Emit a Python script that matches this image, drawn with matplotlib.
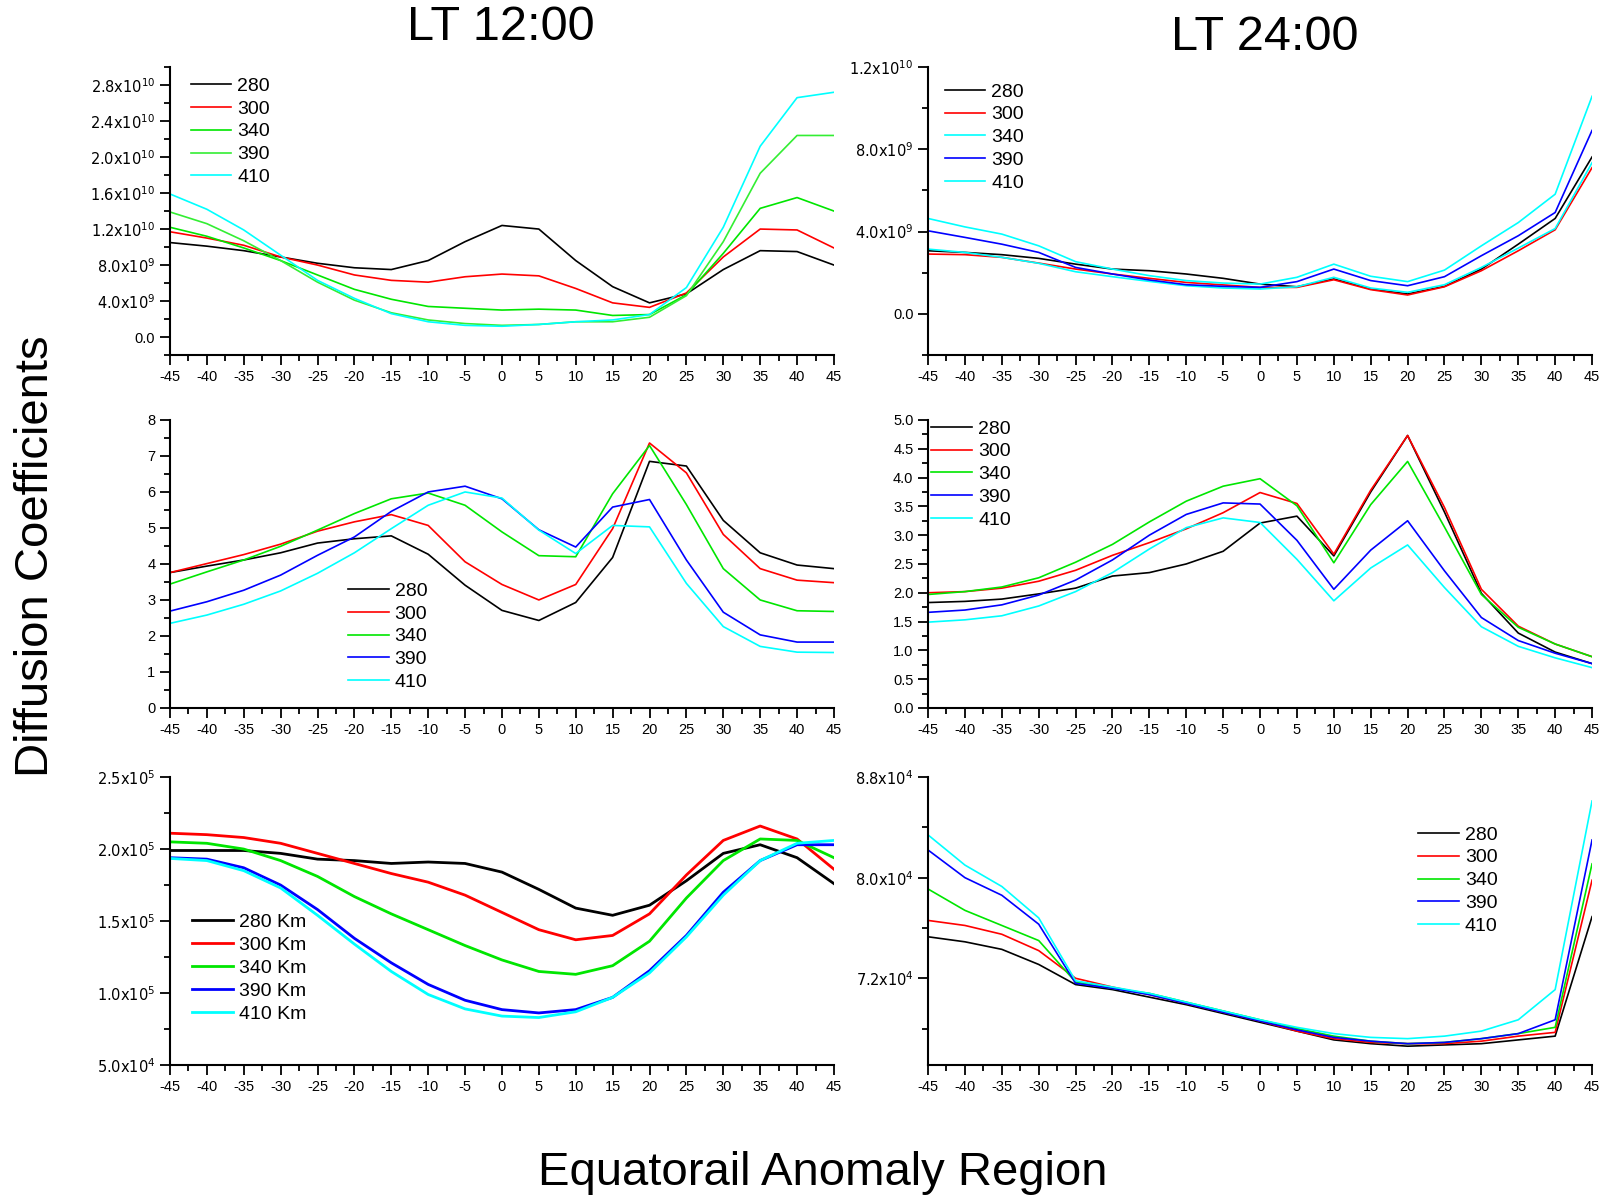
import numpy as np
import matplotlib
matplotlib.use("Agg")
import matplotlib.pyplot as plt
from matplotlib.ticker import MultipleLocator, FuncFormatter

plt.rcParams['font.family'] = ['Liberation Sans Narrow', 'Liberation Sans', 'DejaVu Sans']
plt.rcParams['mathtext.fontset'] = 'custom'
plt.rcParams['mathtext.rm'] = 'Liberation Sans Narrow'
plt.rcParams['mathtext.it'] = 'Liberation Sans Narrow'
plt.rcParams['axes.unicode_minus'] = False

# latitude of the equatorial anomaly region
lat = [-45, -40, -35, -30, -25, -20, -15, -10, -5, 0, 5, 10, 15, 20, 25, 30, 35, 40, 45]

# ---- LT 12:00, top panel (x1e9)
d12_top_280 = [10.5, 10.1, 9.6, 8.9, 8.2, 7.7, 7.5, 8.5, 10.6, 12.4, 12.0, 8.5, 5.6, 3.8, 4.8, 7.5, 9.6, 9.5, 8.0]
d12_top_300 = [11.7, 11.0, 10.2, 8.9, 8.0, 6.9, 6.3, 6.1, 6.7, 7.0, 6.8, 5.4, 3.8, 3.3, 4.9, 8.9, 12.0, 11.9, 9.9]
d12_top_340 = [12.2, 11.2, 9.9, 8.5, 6.9, 5.3, 4.2, 3.4, 3.2, 3.0, 3.1, 3.0, 2.4, 2.5, 4.7, 9.3, 14.3, 15.5, 14.0]
d12_top_390 = [13.9, 12.6, 10.7, 8.5, 6.1, 4.1, 2.7, 1.9, 1.5, 1.3, 1.4, 1.7, 1.7, 2.2, 4.6, 10.6, 18.2, 22.4, 22.4]
d12_top_410 = [15.9, 14.2, 11.9, 9.1, 6.3, 4.3, 2.6, 1.7, 1.3, 1.2, 1.4, 1.7, 1.9, 2.5, 5.5, 12.2, 21.2, 26.6, 27.2]

# ---- LT 24:00, top panel (x1e9)
d24_top_280 = [3.07, 2.99, 2.88, 2.70, 2.42, 2.18, 2.10, 1.94, 1.73, 1.45, 1.32, 1.70, 1.21, 0.97, 1.34, 2.18, 3.39, 4.64, 7.63]
d24_top_300 = [2.91, 2.88, 2.75, 2.47, 2.18, 1.94, 1.73, 1.53, 1.41, 1.29, 1.29, 1.66, 1.18, 0.92, 1.32, 2.10, 3.07, 4.09, 7.11]
d24_top_340 = [3.15, 2.99, 2.75, 2.46, 2.05, 1.81, 1.58, 1.37, 1.26, 1.21, 1.32, 1.78, 1.26, 1.05, 1.42, 2.26, 3.20, 4.15, 7.35]
d24_top_390 = [4.04, 3.72, 3.39, 2.99, 2.26, 1.94, 1.65, 1.42, 1.34, 1.29, 1.57, 2.18, 1.62, 1.37, 1.81, 2.83, 3.80, 4.93, 8.92]
d24_top_410 = [4.64, 4.23, 3.88, 3.31, 2.54, 2.18, 1.86, 1.62, 1.50, 1.45, 1.78, 2.42, 1.83, 1.57, 2.13, 3.31, 4.44, 5.82, 10.58]

# ---- LT 12:00, middle panel
d12_mid_280 = [3.76, 3.94, 4.11, 4.31, 4.58, 4.70, 4.78, 4.27, 3.41, 2.71, 2.43, 2.93, 4.18, 6.85, 6.72, 5.21, 4.31, 3.97, 3.87]
d12_mid_300 = [3.76, 4.01, 4.26, 4.55, 4.91, 5.17, 5.37, 5.07, 4.06, 3.43, 3.00, 3.43, 4.98, 7.36, 6.53, 4.82, 3.87, 3.55, 3.48]
d12_mid_340 = [3.44, 3.78, 4.11, 4.49, 4.94, 5.40, 5.81, 5.97, 5.63, 4.89, 4.23, 4.20, 5.95, 7.29, 5.65, 3.87, 3.00, 2.70, 2.68]
d12_mid_390 = [2.69, 2.95, 3.27, 3.69, 4.24, 4.75, 5.46, 6.00, 6.16, 5.81, 4.95, 4.47, 5.58, 5.79, 4.11, 2.66, 2.03, 1.83, 1.83]
d12_mid_410 = [2.35, 2.58, 2.88, 3.25, 3.74, 4.31, 4.98, 5.63, 6.00, 5.83, 4.94, 4.29, 5.07, 5.03, 3.46, 2.26, 1.71, 1.55, 1.54]

# ---- LT 24:00, middle panel
d24_mid_280 = [1.83, 1.85, 1.89, 1.98, 2.08, 2.29, 2.35, 2.50, 2.72, 3.21, 3.33, 2.64, 3.75, 4.73, 3.40, 1.99, 1.30, 0.97, 0.77]
d24_mid_300 = [2.00, 2.02, 2.08, 2.20, 2.39, 2.65, 2.87, 3.11, 3.39, 3.74, 3.55, 2.67, 3.78, 4.73, 3.48, 2.06, 1.42, 1.11, 0.89]
d24_mid_340 = [1.97, 2.02, 2.10, 2.26, 2.53, 2.84, 3.23, 3.59, 3.85, 3.98, 3.51, 2.52, 3.53, 4.28, 3.14, 1.97, 1.40, 1.11, 0.89]
d24_mid_390 = [1.66, 1.70, 1.79, 1.96, 2.22, 2.57, 3.00, 3.36, 3.56, 3.54, 2.91, 2.06, 2.74, 3.25, 2.38, 1.57, 1.17, 0.95, 0.77]
d24_mid_410 = [1.49, 1.53, 1.60, 1.77, 2.02, 2.35, 2.76, 3.13, 3.30, 3.22, 2.58, 1.86, 2.43, 2.83, 2.09, 1.41, 1.07, 0.87, 0.70]

# ---- LT 12:00, bottom panel (x1e5)
d12_bot_280 = [1.99, 1.99, 1.99, 1.97, 1.93, 1.92, 1.90, 1.91, 1.90, 1.84, 1.72, 1.59, 1.54, 1.61, 1.78, 1.97, 2.03, 1.94, 1.76]
d12_bot_300 = [2.11, 2.10, 2.08, 2.04, 1.97, 1.90, 1.83, 1.77, 1.68, 1.56, 1.44, 1.37, 1.40, 1.55, 1.82, 2.06, 2.16, 2.07, 1.86]
d12_bot_340 = [2.05, 2.04, 2.00, 1.92, 1.81, 1.67, 1.55, 1.44, 1.33, 1.23, 1.15, 1.13, 1.19, 1.36, 1.66, 1.92, 2.07, 2.06, 1.94]
d12_bot_390 = [1.94, 1.93, 1.87, 1.75, 1.58, 1.38, 1.21, 1.06, 0.95, 0.885, 0.862, 0.885, 0.97, 1.155, 1.40, 1.70, 1.92, 2.03, 2.03]
d12_bot_410 = [1.935, 1.92, 1.85, 1.73, 1.54, 1.34, 1.15, 0.99, 0.89, 0.84, 0.83, 0.87, 0.97, 1.14, 1.39, 1.68, 1.92, 2.04, 2.06]

# ---- LT 24:00, bottom panel (x1e4)
d24_bot_280 = [7.53, 7.49, 7.43, 7.31, 7.15, 7.11, 7.05, 6.99, 6.92, 6.85, 6.78, 6.71, 6.68, 6.66, 6.67, 6.68, 6.71, 6.74, 7.69]
d24_bot_300 = [7.66, 7.62, 7.55, 7.42, 7.20, 7.13, 7.07, 7.00, 6.93, 6.86, 6.78, 6.72, 6.69, 6.68, 6.68, 6.70, 6.74, 6.77, 7.98]
d24_bot_340 = [7.91, 7.74, 7.62, 7.50, 7.17, 7.12, 7.08, 7.01, 6.94, 6.87, 6.80, 6.74, 6.70, 6.68, 6.69, 6.72, 6.76, 6.81, 8.11]
d24_bot_390 = [8.22, 8.00, 7.86, 7.63, 7.16, 7.12, 7.07, 7.00, 6.93, 6.86, 6.79, 6.73, 6.70, 6.68, 6.69, 6.72, 6.76, 6.87, 8.30]
d24_bot_410 = [8.34, 8.10, 7.93, 7.68, 7.18, 7.13, 7.08, 7.01, 6.94, 6.87, 6.81, 6.76, 6.73, 6.72, 6.74, 6.78, 6.87, 7.11, 8.61]

heights = ['280', '300', '340', '390', '410']
heights_km = ['280 Km', '300 Km', '340 Km', '390 Km', '410 Km']


def sci_label(v, pos):
    # Origin style tick text, e.g. 2.8x10^10
    if abs(v) < 1e-9:
        return '0.0'
    e = int(np.floor(np.log10(abs(v)) + 1e-9))
    m = v / 10 ** e
    return r'$%.1f\mathrm{x}10^{%d}$' % (m, e)


def setup_axis(ax):
    ax.spines['top'].set_visible(False)
    ax.spines['right'].set_visible(False)
    ax.spines['left'].set_linewidth(1.5)
    ax.spines['bottom'].set_linewidth(1.5)
    ax.set_xlim(-45, 45)
    ax.xaxis.set_major_locator(MultipleLocator(5))
    ax.xaxis.set_minor_locator(MultipleLocator(2.5))
    ax.tick_params(which='both', direction='out', width=1.3, labelsize=10.5)
    ax.tick_params(which='major', length=7)
    ax.tick_params(which='minor', length=4)


fig = plt.figure(figsize=(16.14, 12.04), dpi=100)

w = 0.4114
h = 0.2392
left_x = 0.1053
right_x = 0.575
rows = [0.7051, 0.4120, 0.1154]

ax1 = fig.add_axes([left_x, rows[0], w, h])
ax2 = fig.add_axes([right_x, rows[0], w, h])
ax3 = fig.add_axes([left_x, rows[1], w, h])
ax4 = fig.add_axes([right_x, rows[1], w, h])
ax5 = fig.add_axes([left_x, rows[2], w, h])
ax6 = fig.add_axes([right_x, rows[2], w, h])

lat = np.array(lat)

# top left
cols1 = ['black', '#ff0000', '#00e600', '#33ee33', '#00ffff']
for ys, c, lab in zip([d12_top_280, d12_top_300, d12_top_340, d12_top_390, d12_top_410], cols1, heights):
    ax1.plot(lat, np.array(ys) * 1e9, color=c, lw=1.2, label=lab)
ax1.set_ylim(-2e9, 3.0e10)
ax1.yaxis.set_major_locator(MultipleLocator(4e9))
ax1.yaxis.set_minor_locator(MultipleLocator(2e9))
ax1.yaxis.set_major_formatter(FuncFormatter(sci_label))

# top right
cols2 = ['black', '#ff0000', '#00ffff', '#0000ff', '#00ffff']
for ys, c, lab in zip([d24_top_280, d24_top_300, d24_top_340, d24_top_390, d24_top_410], cols2, heights):
    ax2.plot(lat, np.array(ys) * 1e9, color=c, lw=1.2, label=lab)
ax2.set_ylim(-2e9, 1.2e10)
ax2.yaxis.set_major_locator(MultipleLocator(4e9))
ax2.yaxis.set_minor_locator(MultipleLocator(2e9))
ax2.yaxis.set_major_formatter(FuncFormatter(sci_label))

# middle left
cols = ['black', '#ff0000', '#00e600', '#0000ff', '#00ffff']
for ys, c, lab in zip([d12_mid_280, d12_mid_300, d12_mid_340, d12_mid_390, d12_mid_410], cols, heights):
    ax3.plot(lat, ys, color=c, lw=1.2, label=lab)
ax3.set_ylim(0, 8)
ax3.yaxis.set_major_locator(MultipleLocator(1))
ax3.yaxis.set_minor_locator(MultipleLocator(0.5))

# middle right
for ys, c, lab in zip([d24_mid_280, d24_mid_300, d24_mid_340, d24_mid_390, d24_mid_410], cols, heights):
    ax4.plot(lat, ys, color=c, lw=1.2, label=lab)
ax4.set_ylim(0, 5)
ax4.yaxis.set_major_locator(MultipleLocator(0.5))
ax4.yaxis.set_minor_locator(MultipleLocator(0.25))
ax4.yaxis.set_major_formatter(FuncFormatter(lambda v, p: '%.1f' % v))

# bottom left (thicker lines)
for ys, c, lab in zip([d12_bot_280, d12_bot_300, d12_bot_340, d12_bot_390, d12_bot_410], cols, heights_km):
    ax5.plot(lat, np.array(ys) * 1e5, color=c, lw=2.0, label=lab)
ax5.set_ylim(5e4, 2.5e5)
ax5.yaxis.set_major_locator(MultipleLocator(5e4))
ax5.yaxis.set_minor_locator(MultipleLocator(2.5e4))
ax5.yaxis.set_major_formatter(FuncFormatter(sci_label))

# bottom right
for ys, c, lab in zip([d24_bot_280, d24_bot_300, d24_bot_340, d24_bot_390, d24_bot_410], cols, heights):
    ax6.plot(lat, np.array(ys) * 1e4, color=c, lw=1.2, label=lab)
ax6.set_ylim(6.51e4, 8.8e4)
ax6.set_yticks([7.2e4, 8.0e4, 8.8e4])
ax6.set_yticks([6.8e4, 7.6e4, 8.4e4], minor=True)
ax6.yaxis.set_major_formatter(FuncFormatter(sci_label))

# legends, no frame
legend_spots = [(ax1, 0.031, 0.965), (ax2, 0.025, 0.945), (ax3, 0.268, 0.437),
                (ax4, 0.005, 1.0), (ax5, 0.033, 0.526), (ax6, 0.738, 0.83)]
for ax, lx, ly in legend_spots:
    ax.legend(loc='upper left', bbox_to_anchor=(lx, ly), frameon=False,
              labelspacing=0.27, handlelength=2.1,
              handletextpad=0.3, borderpad=0, borderaxespad=0,
              prop={'family': ['Liberation Sans', 'DejaVu Sans'], 'size': 14})

for ax in [ax1, ax2, ax3, ax4, ax5, ax6]:
    setup_axis(ax)

big = ['Liberation Sans', 'DejaVu Sans']
fig.text(501 / 1614, 1 - 28 / 1204, 'LT 12:00', ha='center', va='center', fontsize=35, family=big)
fig.text(1265 / 1614, 1 - 38 / 1204, 'LT 24:00', ha='center', va='center', fontsize=35, family=big)
fig.text(36 / 1614, 1 - 556 / 1204, 'Diffusion Coefficients', ha='center', va='center',
         rotation=90, fontsize=34, family=big)
fig.text(823 / 1614, 1 - 1173 / 1204, 'Equatorail Anomaly Region', ha='center', va='center',
         fontsize=34, family=big)

plt.savefig('out.png', dpi=100)
